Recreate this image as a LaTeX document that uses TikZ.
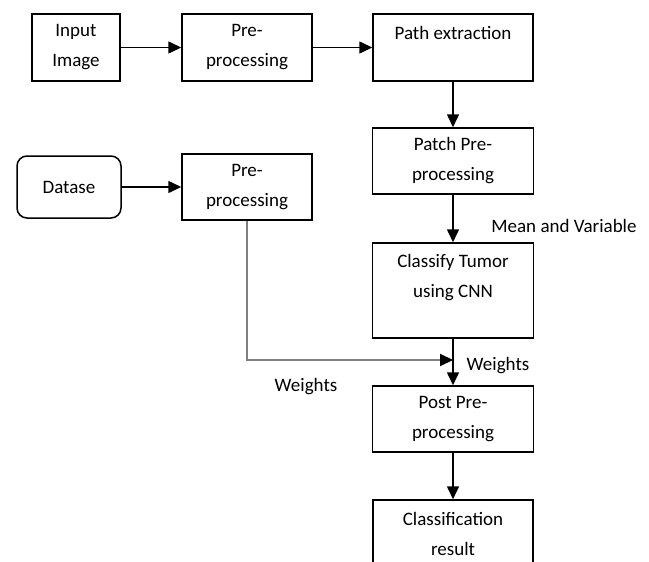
\documentclass[tikz,border=0pt]{standalone}
\usepackage{fontspec}
\setmainfont{Carlito}
\usetikzlibrary{arrows.meta, positioning}

\begin{document}
\begin{tikzpicture}[x=1pt, y=-1pt,
    box/.style={draw, line width=1.5pt, align=center, inner sep=0pt,
                font=\fontsize{19}{30}\selectfont},
    lbl/.style={inner sep=0pt, font=\fontsize{19}{30}\selectfont},
    arr/.style={-{Triangle[length=13pt,width=12pt]}, line width=1.6pt},
    wline/.style={-{Triangle[length=13pt,width=12pt,color=black]}, line width=2pt, draw=gray}]
            \useasboundingbox (0,0) rectangle (649,562);
            \clip (0,0) rectangle (649,562);
            % top row
            \draw (76,47.5) node[box, minimum width=88pt, minimum height=67pt] (inimg) {Input\\Image};
            \draw (247,47.5) node[box, minimum width=130pt, minimum height=67pt] (pre1) {Pre-\\processing};
            \draw (453,47.5) node[box, minimum width=160pt, minimum height=67pt] (pathx) {Path extraction\\~};
            % dataset row
            \draw (69,187) node[box, rounded corners=10pt, minimum width=104pt, minimum height=62pt] (data) {Datase};
            \draw (247,187) node[box, minimum width=130pt, minimum height=66pt] (pre2) {Pre-\\processing};
            % main column
            \draw (453,161) node[box, minimum width=161pt, minimum height=66pt] (patch) {Patch Pre-\\processing};
            \draw (453,290.5) node[box, minimum width=161pt, minimum height=95pt] (cls) {Classify Tumor\\using CNN\\~};
            \draw (453,419) node[box, minimum width=161pt, minimum height=66pt] (post) {Post Pre-\\processing};
            \draw (453,533.5) node[box, minimum width=160pt, minimum height=67pt] (result) {Classification\\result};
            % labels
            \draw (564,226) node[lbl] (meanvar) {Mean and Variable};
            \draw (498,366) node[lbl] (wtright) {Weights};
            \draw (306,387) node[lbl] (wtleft) {Weights};
            \coordinate (join) at (453,360);
            \path[arr]
            (inimg) edge (pre1)
            (pre1)  edge (pathx)
            (pathx) edge (patch)
            (data)  edge (pre2)
            (patch) edge (cls)
            (cls)   edge (post)
            (post)  edge (result)
            ;
            \draw[wline] (pre2.south) |- (join);
        \end{tikzpicture}
\end{document}
